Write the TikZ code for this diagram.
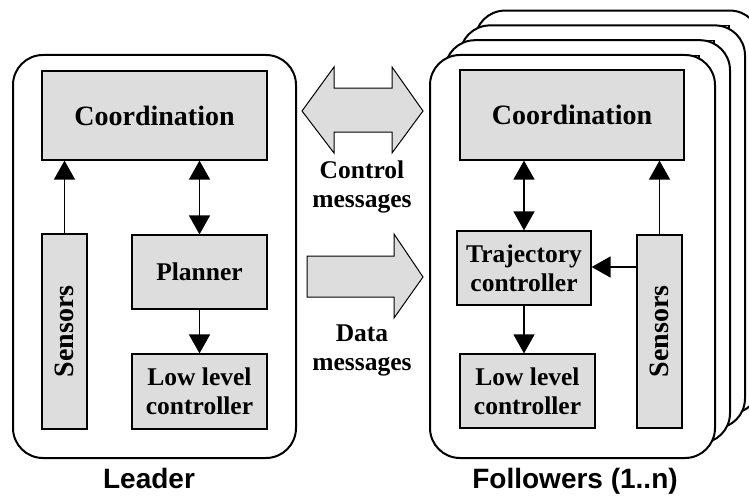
\documentclass[tikz,border=0pt]{standalone}
\usepackage{fontspec}
\setmainfont{Liberation Serif}
\setsansfont{Liberation Sans}
\usetikzlibrary{arrows.meta}
\definecolor{boxgray}{RGB}{221,221,221}
\tikzset{
  card/.style={draw, fill=white, line width=2pt, rounded corners=30pt},
  blk/.style={draw, fill=boxgray, line width=1.2pt, inner sep=0pt, align=center,
    font=\bfseries\fontsize{25.5}{29}\selectfont},
  bigtxt/.style={font=\bfseries\fontsize{28}{31}\selectfont},
  link/.style={line width=1.5pt, -{Triangle[width=21pt,length=19pt]}},
  biglink/.style={line width=1.5pt, {Triangle[width=21pt,length=19pt]}-{Triangle[width=21pt,length=19pt]}},
  fatarrow/.style={draw, fill=boxgray, line width=1pt, line join=miter},
  caption/.style={align=center, font=\bfseries\fontsize{25.5}{29}\selectfont},
  title/.style={anchor=base, inner sep=0pt, font=\sffamily\bfseries\fontsize{28}{31}\selectfont}
}
\begin{document}
\begin{tikzpicture}[x=1pt, y=-1pt]
\useasboundingbox (0,0) rectangle (749,495);

% ---------------- Leader ----------------
\draw[card] (13,55) rectangle (296,458);
\node[blk, bigtxt, minimum width=225pt, minimum height=89pt] (coordL) at (154.5,115.5) {Coordination};
\node[blk, minimum width=45pt, minimum height=195pt] (sensL) at (64.5,331.5) {};
\node[bigtxt, rotate=90] at (sensL.center) {Sensors};
\node[blk, minimum width=135pt, minimum height=74pt] (planL) at (199.5,272) {Planner};
\node[blk, minimum width=135pt, minimum height=75pt] (lowL) at (199.5,391.5) {Low level\\controller};

\draw[link] (sensL.north) -- (sensL.north |- coordL.south);
\draw[biglink] (planL.north |- coordL.south) -- (planL.north);
\draw[link] (planL.south) -- (lowL.north);

\node[title] (leader) at (149,488) {Leader};

% ---------------- Messages ----------------
\draw[fatarrow] (302,111) -- (334,67) -- (334,88) -- (392,88) -- (392,67) -- (423,111)
  -- (392,153) -- (392,132) -- (334,132) -- (334,153) -- cycle;
\node[caption] (ctrl) at (362,187) {Control\\messages};

\draw[fatarrow] (307,256) -- (394,256) -- (394,234) -- (423,277) -- (394,318)
  -- (394,297) -- (307,297) -- cycle;
\node[caption] (data) at (362,350) {Data\\messages};

% ---------------- Followers (stacked cards) ----------------
\begin{scope}
\clip (0,0) rectangle (749,495);
\foreach \k in {3,2,1} {
  \begin{scope}[shift={(15*\k,-14.8*\k)}]
    \draw[card] (430,55) rectangle (715,458);
    \draw[fill=boxgray, line width=1.2pt] (460,70) rectangle (684,160);
  \end{scope}
}
\end{scope}

\draw[card] (430,55) rectangle (715,458);
\node[blk, bigtxt, minimum width=224pt, minimum height=90pt] (coordF) at (572,115) {Coordination};
\node[blk, minimum width=134pt, minimum height=74pt] (trajF) at (524,268) {Trajectory\\controller};
\node[blk, minimum width=135pt, minimum height=74pt] (lowF) at (527.5,391) {Low level\\controller};
\node[blk, minimum width=45pt, minimum height=193pt] (sensF) at (659.5,331.5) {};
\node[bigtxt, rotate=90] at (sensF.center) {Sensors};

\draw[biglink] (trajF.north |- coordF.south) -- (trajF.north);
\draw[link] (trajF.south) -- (trajF.south |- lowF.north);
\draw[link] (sensF.north) -- (sensF.north |- coordF.south);
\draw[link] (sensF.west |- 0,267) -- (trajF.east |- 0,267);

\node[title] (followers) at (575,488) {Followers (1..n)};
\end{tikzpicture}
\end{document}
